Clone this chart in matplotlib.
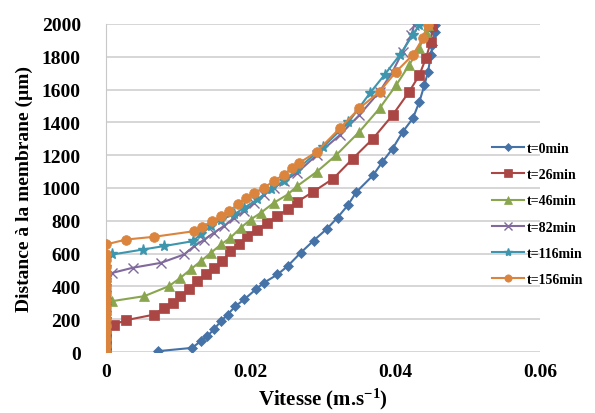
import matplotlib
matplotlib.use("Agg")
import matplotlib.pyplot as plt

# ---- data ----
labels = ["t=0min", "t=26min", "t=46min", "t=82min", "t=116min", "t=156min"]

x_t0 = [0.0072, 0.0119, 0.0131, 0.0140, 0.0149, 0.0159, 0.0168, 0.0179, 0.0191, 0.0207,
        0.0218, 0.0237, 0.0251, 0.0269, 0.0287, 0.0305, 0.0320, 0.0334, 0.0346, 0.0369,
        0.0382, 0.0396, 0.0410, 0.0424, 0.0433, 0.0440, 0.0445, 0.0449, 0.0451, 0.0454, 0.0455]
y_t0 = [6, 26, 67, 97, 138, 189, 229, 280, 321, 382,
        422, 473, 524, 605, 680, 750, 820, 894, 976, 1077,
        1159, 1240, 1342, 1424, 1525, 1627, 1709, 1811, 1872, 1953, 1994]

x_t26 = [0, 0, 0, 0, 0.0011, 0.0028, 0.0067, 0.0080, 0.0092, 0.0103, 0.0115, 0.0126, 0.0138,
         0.0149, 0.0161, 0.0172, 0.0184, 0.0195, 0.0209, 0.0223, 0.0237, 0.0251, 0.0264,
         0.0286, 0.0314, 0.0341, 0.0369, 0.0396, 0.0419, 0.0433, 0.0442, 0.0449, 0.0451]
y_t26 = [0, 40, 80, 120, 168, 195, 229, 270, 300, 341, 382, 432, 473,
         514, 554, 615, 656, 707, 747, 788, 828, 869, 915,
         976, 1057, 1179, 1301, 1444, 1587, 1688, 1790, 1892, 1984]

x_t46 = [0, 0, 0, 0, 0, 0, 0, 0.0009, 0.0053, 0.0087, 0.0103, 0.0117, 0.0131, 0.0145, 0.0159,
         0.0172, 0.0186, 0.0200, 0.0214, 0.0232, 0.0251, 0.0264, 0.0291, 0.0318, 0.0350,
         0.0378, 0.0401, 0.0419, 0.0433, 0.0442, 0.0445]
y_t46 = [0, 40, 80, 120, 160, 200, 240, 311, 341, 402, 453, 504, 554, 605, 656,
         697, 757, 808, 849, 910, 960, 1011, 1098, 1200, 1342,
         1485, 1627, 1750, 1851, 1953, 1994]

x_t82 = [0, 0, 0, 0, 0, 0, 0, 0, 0, 0, 0, 0.0009, 0.0037, 0.0076, 0.0108, 0.0122, 0.0136,
         0.0149, 0.0163, 0.0177, 0.0191, 0.0205, 0.0218, 0.0232, 0.0246, 0.0264, 0.0291,
         0.0323, 0.0350, 0.0378, 0.0396, 0.0410, 0.0422, 0.0426]
y_t82 = [0, 40, 80, 120, 160, 200, 240, 280, 320, 360, 400, 483, 514, 544, 595, 646, 686,
         727, 768, 818, 859, 910, 960, 1001, 1042, 1092, 1200,
         1322, 1444, 1587, 1709, 1831, 1933, 1994]

x_t116 = [0, 0, 0, 0, 0, 0, 0, 0, 0, 0, 0, 0, 0, 0, 0.0009, 0.0051, 0.0080, 0.0120, 0.0131,
          0.0145, 0.0159, 0.0177, 0.0191, 0.0209, 0.0228, 0.0246, 0.0264, 0.0300, 0.0335,
          0.0365, 0.0385, 0.0406, 0.0424, 0.0433]
y_t116 = [0, 40, 80, 120, 160, 200, 240, 280, 320, 360, 400, 440, 480, 520, 595, 625, 646, 676, 717,
          768, 808, 839, 879, 930, 991, 1042, 1113, 1250, 1400,
          1580, 1690, 1811, 1933, 1994]

x_t156 = [0, 0, 0, 0, 0, 0, 0, 0, 0, 0, 0, 0, 0, 0, 0, 0, 0, 0.0028, 0.0067, 0.0122, 0.0133,
          0.0147, 0.0159, 0.0170, 0.0182, 0.0193, 0.0205, 0.0218, 0.0232, 0.0246, 0.0257,
          0.0267, 0.0291, 0.0323, 0.0350, 0.0378, 0.0401, 0.0424, 0.0438, 0.0445]
y_t156 = [0, 40, 80, 120, 160, 200, 240, 280, 320, 360, 400, 440, 480, 520, 560, 600, 656, 686, 703, 737, 764,
          798, 828, 859, 900, 940, 971, 1001, 1042, 1082, 1123,
          1153, 1220, 1363, 1485, 1587, 1709, 1811, 1912, 1994]

xs = [x_t0, x_t26, x_t46, x_t82, x_t116, x_t156]
ys = [y_t0, y_t26, y_t46, y_t82, y_t116, y_t156]

colors = ["#4572A7", "#AA4643", "#89A54E", "#80699B", "#3D96AE", "#DB843D"]
markers = ["D", "s", "^", "x", "*", "o"]
msizes = [5, 7, 7, 7, 8, 7]

plt.rcParams['font.family'] = ['Liberation Serif', 'DejaVu Serif']
plt.rcParams['font.weight'] = 'bold'
plt.rcParams['mathtext.fontset'] = 'custom'
plt.rcParams['mathtext.rm'] = 'Liberation Serif:bold'
plt.rcParams['mathtext.bf'] = 'Liberation Serif:bold'
plt.rcParams['mathtext.default'] = 'bf'

fig = plt.figure(figsize=(5.95, 4.14), dpi=100)
ax = fig.add_axes([0.178, 0.147, 0.730, 0.793])

for i in range(6):
    ax.plot(xs[i], ys[i], color=colors[i], marker=markers[i], markersize=msizes[i],
            markeredgecolor=colors[i], markeredgewidth=1.0 if markers[i] in "x*" else 0.5,
            linewidth=1.5, label=labels[i], zorder=3 + i)

ax.set_xlim(0, 0.06)
ax.set_ylim(0, 2000)
ax.set_xticks([0, 0.02, 0.04, 0.06])
ax.set_xticklabels(["0", "0.02", "0.04", "0.06"])
ax.set_yticks(range(0, 2001, 200))
ax.tick_params(axis='both', length=0, labelsize=14)
ax.tick_params(axis='y', pad=18)
ax.tick_params(axis='x', pad=8)
ax.grid(axis='y', color='#d0d0d0', linewidth=1.2)
ax.set_axisbelow(True)
for s in ['top', 'right', 'bottom']:
    ax.spines[s].set_visible(False)
ax.spines['left'].set_color('#c8c8c8')

ax.set_xlabel("Vitesse (m.s$^{-1}$)", fontsize=15, fontweight='bold', labelpad=4)
ax.set_ylabel("Distance à la membrane (µm)", fontsize=14, fontweight='bold', labelpad=6)

fig.legend(loc='upper left', bbox_to_anchor=(0.818, 0.668), frameon=False,
           fontsize=10, handlelength=2.3, labelspacing=0.95, handletextpad=0.2,
           markerscale=0.75, borderaxespad=0)

fig.savefig("out.png", dpi=100)
